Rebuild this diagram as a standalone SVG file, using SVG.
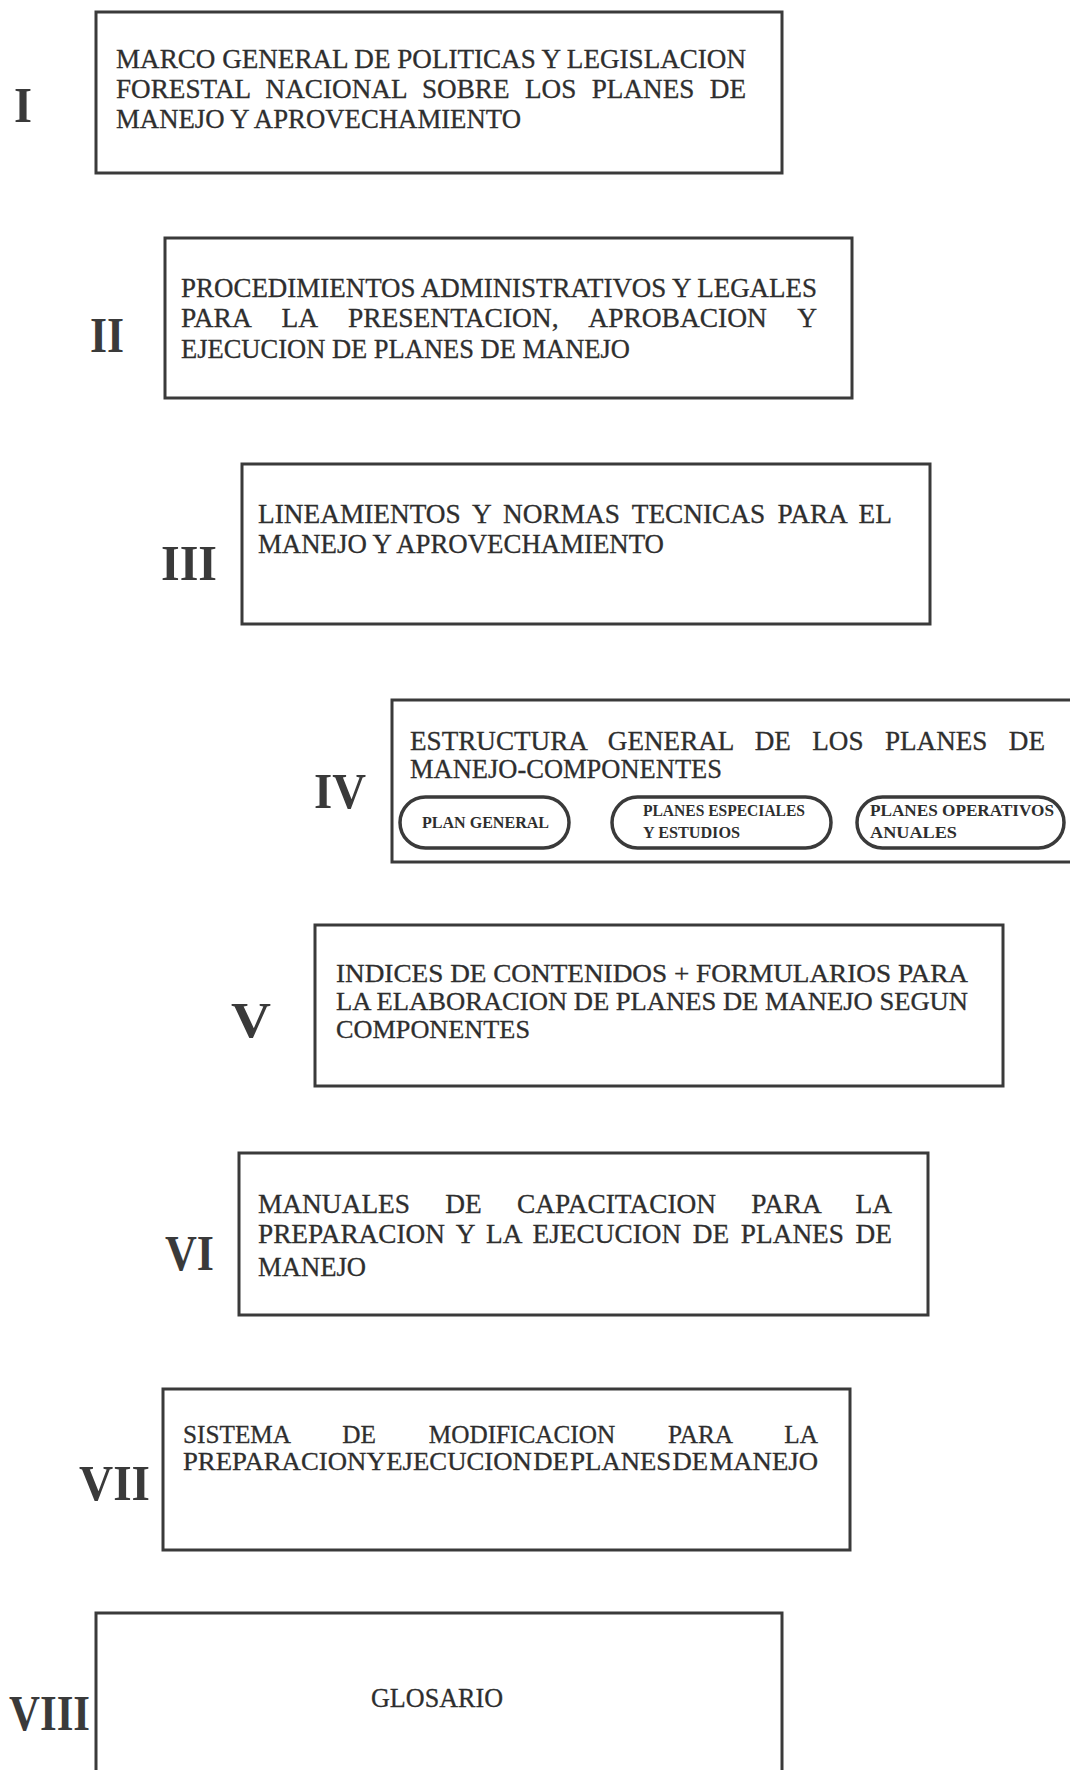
<svg xmlns="http://www.w3.org/2000/svg" width="1070" height="1770" viewBox="0 0 1070 1770">
<style>
.box{fill:none;stroke:#3a3a3a;stroke-width:3}
.pill{fill:none;stroke:#3a3a3a;stroke-width:3.5}
.t{font-family:"Liberation Serif","Times New Roman",serif;font-size:27px;fill:#2e2e2e;stroke:#2e2e2e;stroke-width:0.3}
.s{font-size:25px}
.num{font-family:"Liberation Serif","Times New Roman",serif;font-size:50px;font-weight:bold;fill:#3a3a3a}
.p{font-family:"Liberation Serif","Times New Roman",serif;font-size:16px;font-weight:bold;fill:#2e2e2e}
</style>
<rect width="1070" height="1770" fill="#fff"/>
<g id="connectors"></g>
<g id="node-I">
<rect class="box" x="96" y="12" width="686" height="161"/>
<text class="num" x="14" y="122" textLength="18" lengthAdjust="spacingAndGlyphs">I</text>
<text class="t" x="116" y="68" textLength="630" lengthAdjust="spacingAndGlyphs">MARCO GENERAL DE POLITICAS Y LEGISLACION</text>
<text class="t" x="116" y="98" textLength="630" lengthAdjust="spacingAndGlyphs" word-spacing="8.6">FORESTAL NACIONAL SOBRE LOS PLANES DE</text>
<text class="t" x="116" y="128" textLength="405" lengthAdjust="spacingAndGlyphs">MANEJO Y APROVECHAMIENTO</text>
</g>
<g id="node-II">
<rect class="box" x="165" y="238" width="687" height="160"/>
<text class="num" x="90" y="352" textLength="34" lengthAdjust="spacingAndGlyphs">II</text>
<text class="t" x="181" y="297" textLength="636" lengthAdjust="spacingAndGlyphs">PROCEDIMIENTOS ADMINISTRATIVOS Y LEGALES</text>
<text class="t" x="181" y="327" textLength="636" lengthAdjust="spacingAndGlyphs" word-spacing="24">PARA LA PRESENTACION, APROBACION Y</text>
<text class="t" x="181" y="358" textLength="449" lengthAdjust="spacingAndGlyphs">EJECUCION DE PLANES DE MANEJO</text>
</g>
<g id="node-III">
<rect class="box" x="242" y="464" width="688" height="160"/>
<text class="num" x="161" y="580" textLength="56" lengthAdjust="spacingAndGlyphs">III</text>
<text class="t" x="258" y="523" textLength="634" lengthAdjust="spacingAndGlyphs" word-spacing="5.4">LINEAMIENTOS Y NORMAS TECNICAS PARA EL</text>
<text class="t" x="258" y="553" textLength="406" lengthAdjust="spacingAndGlyphs">MANEJO Y APROVECHAMIENTO</text>
</g>
<g id="node-IV">
<rect class="box" x="392" y="700" width="690" height="162"/>
<text class="num" x="314" y="808" textLength="52" lengthAdjust="spacingAndGlyphs">IV</text>
<text class="t" x="410" y="750" textLength="635" lengthAdjust="spacingAndGlyphs" word-spacing="14.5">ESTRUCTURA GENERAL DE LOS PLANES DE</text>
<text class="t" x="410" y="778" textLength="312" lengthAdjust="spacingAndGlyphs">MANEJO-COMPONENTES</text>
<g id="pill-plan-general">
<rect class="pill" x="400" y="797" width="169" height="51" rx="25.5"/>
<text class="p" x="422" y="828" textLength="127" lengthAdjust="spacingAndGlyphs">PLAN GENERAL</text>
</g>
<g id="pill-planes-especiales">
<rect class="pill" x="612" y="797" width="219" height="51" rx="25.5"/>
<text class="p" x="643" y="816" textLength="162" lengthAdjust="spacingAndGlyphs">PLANES ESPECIALES</text>
<text class="p" x="643" y="838" textLength="97" lengthAdjust="spacingAndGlyphs">Y ESTUDIOS</text>
</g>
<g id="pill-planes-operativos">
<rect class="pill" x="857" y="797" width="207" height="51" rx="25.5"/>
<text class="p" x="870" y="816" textLength="184" lengthAdjust="spacingAndGlyphs">PLANES OPERATIVOS</text>
<text class="p" x="870" y="838" textLength="87" lengthAdjust="spacingAndGlyphs">ANUALES</text>
</g>
</g>
<g id="node-V">
<rect class="box" x="315" y="925" width="688" height="161"/>
<text class="num" x="231" y="1037" textLength="40" lengthAdjust="spacingAndGlyphs">V</text>
<text class="t s" x="336" y="982" textLength="632" lengthAdjust="spacingAndGlyphs">INDICES DE CONTENIDOS + FORMULARIOS PARA</text>
<text class="t s" x="336" y="1010" textLength="632" lengthAdjust="spacingAndGlyphs">LA ELABORACION DE PLANES DE MANEJO SEGUN</text>
<text class="t s" x="336" y="1038" textLength="194" lengthAdjust="spacingAndGlyphs">COMPONENTES</text>
</g>
<g id="node-VI">
<rect class="box" x="239" y="1153" width="689" height="162"/>
<text class="num" x="165" y="1270" textLength="49" lengthAdjust="spacingAndGlyphs">VI</text>
<text class="t" x="258" y="1213" textLength="634" lengthAdjust="spacingAndGlyphs" word-spacing="28">MANUALES DE CAPACITACION PARA LA</text>
<text class="t" x="258" y="1243" textLength="634" lengthAdjust="spacingAndGlyphs" word-spacing="4.8">PREPARACION Y LA EJECUCION DE PLANES DE</text>
<text class="t" x="258" y="1276" textLength="108" lengthAdjust="spacingAndGlyphs">MANEJO</text>
</g>
<g id="node-VII">
<rect class="box" x="163" y="1389" width="687" height="161"/>
<text class="num" x="79" y="1500" textLength="71" lengthAdjust="spacingAndGlyphs">VII</text>
<text class="t s" x="183" y="1443" textLength="635" lengthAdjust="spacingAndGlyphs" word-spacing="46">SISTEMA DE MODIFICACION PARA LA</text>
<text class="t s" x="183" y="1470" textLength="635" lengthAdjust="spacingAndGlyphs" word-spacing="-5">PREPARACION Y EJECUCION DE PLANES DE MANEJO</text>
</g>
<g id="node-VIII">
<rect class="box" x="96" y="1613" width="686" height="175"/>
<text class="num" x="9" y="1730" textLength="81" lengthAdjust="spacingAndGlyphs">VIII</text>
<text class="t" x="371" y="1707" textLength="132" lengthAdjust="spacingAndGlyphs">GLOSARIO</text>
</g>
</svg>
